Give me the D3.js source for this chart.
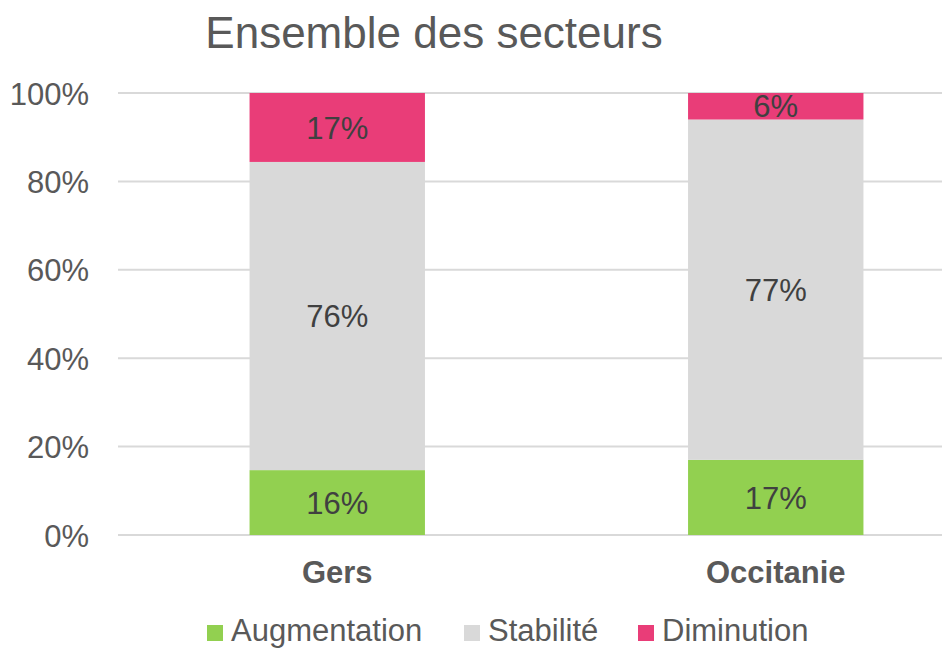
<!DOCTYPE html>
<html>
<head>
<meta charset="utf-8">
<script src="https://cdn.jsdelivr.net/npm/d3@7"></script>
<style>
  html, body { margin: 0; padding: 0; background: #fff; }
  svg { display: block; font-family: "Liberation Sans", Arial, sans-serif; }
</style>
</head>
<body>
<svg id="chart" width="942" height="649"></svg>
<script>
// Share of establishments by trend, stacked to 100 %
const categories = ["Gers", "Occitanie"];
const seriesNames = ["Augmentation", "Stabilité", "Diminution"];
const augmentation = [16, 17];
const stabilite = [76, 77];
const diminution = [17, 6];
const yTicks = [0, 0.2, 0.4, 0.6, 0.8, 1];
const titleText = "Ensemble des secteurs";

const colors = { "Augmentation": "#92d050", "Stabilité": "#d9d9d9", "Diminution": "#e93d78" };

const rows = categories.map((c, i) => ({
  cat: c,
  "Augmentation": augmentation[i],
  "Stabilité": stabilite[i],
  "Diminution": diminution[i]
}));

const stack = d3.stack().keys(seriesNames).offset(d3.stackOffsetExpand);
const layers = stack(rows);

const svg = d3.select("#chart");
const plot = { left: 118, right: 995, top: 93, bottom: 535 };

const x = d3.scaleBand().domain(categories).range([plot.left, plot.right])
  .paddingInner(0.6).paddingOuter(0.3);
const y = d3.scaleLinear().domain([0, 1]).range([plot.bottom, plot.top]);

// Title
svg.append("text")
  .attr("x", 434).attr("y", 48)
  .attr("text-anchor", "middle")
  .attr("font-size", 44)
  .attr("fill", "#595959")
  .text(titleText);

// Gridlines
svg.append("g").selectAll("line").data(yTicks).join("line")
  .attr("x1", plot.left).attr("x2", 942)
  .attr("y1", d => y(d)).attr("y2", d => y(d))
  .attr("stroke", "#d9d9d9").attr("stroke-width", 2);

// Y axis labels
const yAxis = d3.axisLeft(y).tickValues(yTicks).tickFormat(d3.format(".0%")).tickSize(0).tickPadding(29);
const gy = svg.append("g").attr("transform", `translate(${plot.left},0)`).call(yAxis);
gy.select(".domain").remove();
gy.selectAll("text")
  .attr("font-size", 31)
  .attr("fill", "#595959")
  .attr("font-family", "'Liberation Sans', Arial, sans-serif")
  .attr("dy", "0.36em");

// Bars
const layerG = svg.append("g").selectAll("g").data(layers).join("g")
  .attr("fill", d => colors[d.key]);
layerG.selectAll("rect").data(d => d).join("rect")
  .attr("x", d => x(d.data.cat))
  .attr("width", x.bandwidth())
  .attr("y", d => y(d[1]))
  .attr("height", d => y(d[0]) - y(d[1]));

// Segment value labels
const labelG = svg.append("g");
layers.forEach(layer => {
  layer.forEach(d => {
    labelG.append("text")
      .attr("x", x(d.data.cat) + x.bandwidth() / 2)
      .attr("y", (y(d[0]) + y(d[1])) / 2)
      .attr("dy", "0.36em")
      .attr("text-anchor", "middle")
      .attr("font-size", 31)
      .attr("fill", "#404040")
      .text(d.data[layer.key] + "%");
  });
});

// X axis category labels
const xAxis = d3.axisBottom(x).tickSize(0).tickPadding(0);
const gx = svg.append("g").attr("transform", `translate(0,${plot.bottom})`).call(xAxis);
gx.select(".domain").remove();
gx.selectAll("text")
  .attr("y", 48)
  .attr("dy", 0)
  .attr("font-size", 31)
  .attr("font-weight", "bold")
  .attr("fill", "#595959")
  .attr("font-family", "'Liberation Sans', Arial, sans-serif");

// Legend
const legendItems = [
  { key: "Augmentation", x: 207 },
  { key: "Stabilité", x: 464 },
  { key: "Diminution", x: 638 }
];
const lg = svg.append("g").selectAll("g").data(legendItems).join("g")
  .attr("transform", d => `translate(${d.x},625)`);
lg.append("rect").attr("width", 16).attr("height", 16).attr("fill", d => colors[d.key]);
lg.append("text")
  .attr("x", 24).attr("y", 16)
  .attr("font-size", 31)
  .attr("fill", "#595959")
  .text(d => d.key);
</script>
</body>
</html>
